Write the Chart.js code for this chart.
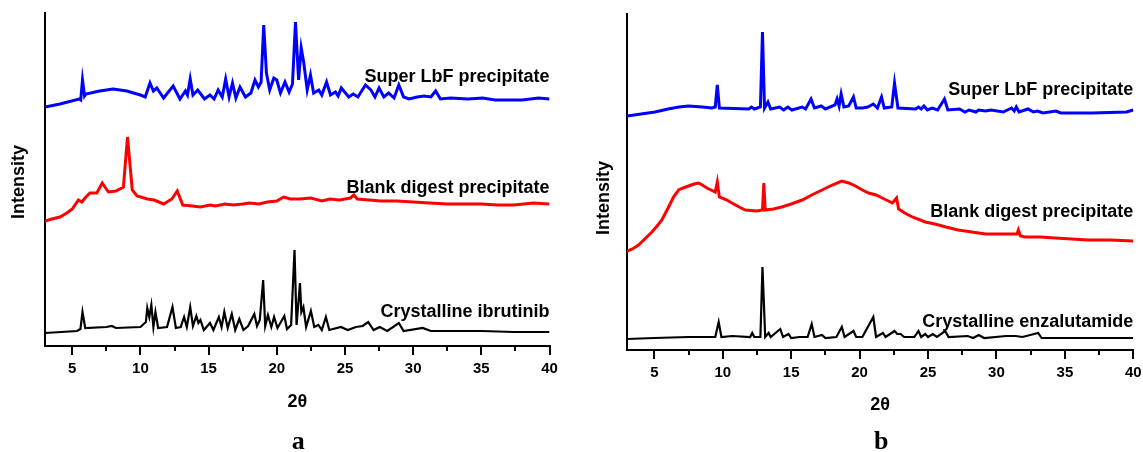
<!DOCTYPE html>
<html>
<head>
<meta charset="utf-8">
<script src="https://cdn.jsdelivr.net/npm/chart.js@4/dist/chart.umd.min.js"></script>
<style>
  html, body { margin: 0; padding: 0; background: #fff; }
  #wrap { position: relative; width: 1143px; height: 452px; overflow: hidden; }
  canvas { position: absolute; top: 0; }
</style>
</head>
<body>
<div id="wrap">
  <canvas id="chartA" width="575" height="452" style="left:0"></canvas>
  <canvas id="chartB" width="575" height="452" style="left:580px"></canvas>
</div>
<script>
// [2θ, intensity (a.u.)]
const aSuper = [
  [3.0,239],[4.1,242],[5.5,247],[5.62,246],[5.75,266],[5.9,250],[6.0,252],[7.0,255],[8.0,257],[9.0,255],
  [10.0,251],[10.35,249],[10.7,263],[10.95,255],[11.2,258],[11.7,248],[12.4,260],[12.9,247],[13.3,255],
  [13.45,251],[13.65,267],[13.85,251],[14.2,256],[14.7,247],[15.1,251],[15.4,247],[15.7,256],[16.0,249],
  [16.25,267],[16.5,249],[16.75,263],[17.0,248],[17.3,259],[17.7,249],[18.1,253],[18.4,266],[18.65,259],
  [18.85,264],[19.04,321],[19.24,273],[19.48,256],[19.78,268],[20.0,266],[20.27,253],[20.6,264],[20.9,254],
  [21.15,262],[21.37,324],[21.6,266],[21.79,298],[21.98,283],[22.23,256],[22.47,271],[22.7,253],[23.08,256],
  [23.3,251],[23.65,264],[23.94,251],[24.3,254],[24.5,250],[24.73,258],[25.28,249],[25.6,252],[25.95,249],
  [26.5,261],[26.9,256],[27.2,249],[27.5,258],[27.85,249],[28.2,253],[28.6,248],[28.95,261],[29.3,249],
  [29.7,247],[30.3,249],[30.8,250],[31.3,249],[31.65,255],[32.0,247],[32.75,248],[34.0,247],[35.1,248],
  [36.0,246],[38.0,246],[39.2,248],[40.0,247]
];
const aBlank = [
  [3.0,125],[3.5,127],[4.1,129],[4.6,133],[5.0,137],[5.45,146],[5.7,144],[6.0,149],[6.3,153],[6.8,153],
  [7.2,163],[7.65,154],[8.2,155],[8.75,159],[9.05,209],[9.4,156],[9.75,150],[10.5,147],[11.0,146],[11.7,142],
  [12.3,147],[12.7,155],[13.1,141],[13.8,140],[14.4,139],[15.1,141],[15.5,140],[16.2,142],[16.8,141],
  [17.5,142],[18.0,143],[18.7,142],[19.3,144],[20.0,145],[20.5,149],[21.0,147],[21.7,147],[22.5,148],
  [23.3,145],[23.9,147],[24.6,146],[25.4,148],[25.65,151],[25.9,147],[26.8,146],[27.6,145],[28.8,145],
  [30.0,144],[31.2,143],[32.5,142],[33.8,142],[35.0,142],[36.2,141],[37.4,141],[38.8,143],[40.0,142]
];
const aCryst = [
  [3.0,13],[5.35,15],[5.6,17],[5.75,34],[5.95,18],[7.5,19],[7.9,20],[8.2,18],[10.0,19],[10.4,24],
  [10.5,38],[10.65,29],[10.8,41],[10.95,19],[11.1,34],[11.3,18],[11.95,19],[12.35,39],[12.6,18],[12.95,19],
  [13.2,29],[13.4,19],[13.65,39],[13.85,20],[14.1,30],[14.25,23],[14.4,26],[14.65,16],[15.1,23],[15.35,16],
  [15.75,29],[15.95,19],[16.15,34],[16.4,18],[16.7,32],[16.95,16],[17.25,27],[17.55,16],[17.9,20],[18.35,32],
  [18.55,20],[18.75,26],[19.0,66],[19.15,20],[19.35,31],[19.6,19],[19.8,29],[20.05,18],[20.55,30],[20.75,17],
  [21.05,21],[21.3,96],[21.45,21],[21.7,63],[21.8,34],[21.95,39],[22.15,19],[22.5,35],[22.75,19],[23.05,21],
  [23.3,16],[23.6,29],[23.85,16],[24.7,19],[25.2,16],[25.8,19],[26.3,20],[26.7,24],[27.1,16],[27.55,19],
  [28.1,15],[28.95,23],[29.3,15],[30.7,18],[31.3,15],[32.5,15],[35.0,15],[37.4,14],[40.0,14]
];

const bSuper = [
  [3.0,234],[5.05,238],[6.0,241],[6.8,243],[7.5,244],[8.5,243],[9.2,242],[9.45,243],[9.6,265],[9.75,242],
  [11.9,241],[12.1,243],[12.3,241],[12.75,243],[12.9,318],[13.05,242],[13.3,248],[13.5,241],[14.15,243],
  [14.45,240],[14.75,243],[15.05,240],[15.8,243],[16.05,241],[16.45,251],[16.7,242],[17.2,244],[17.5,241],
  [18.2,245],[18.35,251],[18.5,244],[18.65,256],[18.85,243],[19.2,244],[19.55,253],[19.75,242],[20.2,242],
  [20.6,243],[21.0,246],[21.3,242],[21.6,253],[21.8,242],[22.35,243],[22.55,267],[22.8,242],[24.1,241],
  [24.3,243],[24.5,241],[24.7,244],[24.95,240],[25.3,242],[25.7,240],[26.2,251],[26.45,240],[27.3,241],
  [27.7,238],[28.0,240],[28.5,238],[28.7,240],[29.2,239],[29.6,240],[30.5,238],[31.1,242],[31.3,239],
  [31.45,243],[31.65,238],[32.3,241],[32.7,238],[33.0,239],[33.4,237],[34.35,239],[34.7,237],[37.0,237],
  [39.5,238],[40.0,240]
];
const bBlank = [
  [3.0,99],[3.4,101],[3.84,105],[4.3,111],[4.82,118],[5.2,124],[5.55,130],[6.04,143],[6.4,153],[6.77,160],
  [7.1,162],[7.5,164],[7.9,166],[8.23,167],[8.5,165],[8.84,162],[9.45,158],[9.6,168],[9.75,153],[10.3,150],
  [10.67,147],[11.2,143],[11.65,140],[12.5,139],[12.9,140],[13.0,167],[13.1,140],[13.7,141],[14.3,143],
  [15.0,146],[15.8,150],[16.5,155],[17.25,160],[18.0,165],[18.7,169],[19.2,167],[19.7,164],[20.2,160],
  [20.66,157],[21.2,155],[21.8,151],[22.4,147],[22.7,152],[22.85,141],[23.3,137],[23.85,133],[24.8,128],
  [25.5,126],[26.3,123],[27.2,120],[28.2,118],[29.2,116],[30.3,116],[31.5,116],[31.6,120],[31.75,114],
  [32.1,113],[33.2,113],[34.3,112],[35.5,111],[36.7,110],[38.3,110],[40.0,109]
];
const bCryst = [
  [3.0,11],[5.0,12],[7.5,13],[9.45,13],[9.7,28],[9.9,13],[10.7,14],[12.0,13],[12.15,17],[12.3,13],
  [12.75,13],[12.9,83],[13.1,13],[13.35,17],[13.5,13],[14.2,21],[14.4,13],[14.8,16],[15.0,12],[15.6,13],
  [16.2,13],[16.5,26],[16.7,13],[17.25,15],[17.5,12],[18.3,13],[18.7,23],[18.9,13],[19.55,19],[19.75,13],
  [20.2,13],[21.0,33],[21.2,13],[21.7,17],[21.9,13],[22.55,19],[22.75,16],[23.0,16],[23.25,13],[24.0,13],
  [24.3,19],[24.5,13],[24.8,16],[25.0,13],[25.35,16],[25.65,13],[26.25,19],[26.5,13],[27.9,14],[28.3,12],
  [28.7,15],[29.1,12],[30.7,14],[31.4,14],[31.9,13],[33.05,17],[33.3,12],[35.0,12],[37.5,12],[40.0,12]
];

const seriesColors = ['#0000ff', '#ff0000', '#000000'];
const panelALabels = ['Super LbF precipitate', 'Blank digest precipitate', 'Crystalline ibrutinib'];
const panelBLabels = ['Super LbF precipitate', 'Blank digest precipitate', 'Crystalline enzalutamide'];

const SANS = '"Liberation Sans", Arial, sans-serif';
const SERIF = '"Liberation Serif", "Times New Roman", serif';

function toXY(arr) { return arr.map(p => ({ x: p[0], y: p[1] })); }

// trace names, axis titles and the panel letter
const annotatePlugin = {
  id: 'annotate',
  afterDraw(chart, args, opts) {
    const { ctx, chartArea, scales } = chart;
    ctx.save();
    ctx.fillStyle = '#000';

    ctx.font = 'bold 18px ' + SANS;
    ctx.textAlign = 'right';
    ctx.textBaseline = 'alphabetic';
    const xr = scales.x.getPixelForValue(40);
    opts.labels.forEach((txt, i) => {
      ctx.fillText(txt, xr, scales.y.getPixelForValue(opts.labelAt[i]));
    });

    ctx.textAlign = 'center';
    ctx.textBaseline = 'middle';
    ctx.font = 'bold 18px ' + SANS;
    const cx = (chartArea.left + chartArea.right) / 2;
    ctx.fillText('2θ', cx, chartArea.bottom + opts.titleGap);

    ctx.textBaseline = 'alphabetic';
    ctx.font = 'bold 26px ' + SERIF;
    ctx.fillText(opts.letter, cx + 1, 449);

    ctx.save();
    ctx.translate(opts.yTitleX, opts.yTitleY);
    ctx.rotate(-Math.PI / 2);
    ctx.textBaseline = 'middle';
    ctx.font = 'bold 18px ' + SANS;
    ctx.fillText('Intensity', 0, 0);
    ctx.restore();

    ctx.restore();
  }
};

function makePanel(canvasId, series, cfg) {
  const datasets = series.map((s, i) => ({
    data: toXY(s),
    borderColor: seriesColors[i],
    borderWidth: i === 2 ? 2.2 : 3,
    pointRadius: 0,
    tension: 0,
    fill: false
  }));

  return new Chart(document.getElementById(canvasId), {
    type: 'line',
    data: { datasets },
    options: {
      responsive: false,
      animation: false,
      layout: { padding: { left: 0, right: cfg.padRight, top: cfg.top, bottom: 0 } },
      scales: {
        x: {
          type: 'linear',
          position: 'bottom',
          weight: 1,
          min: 3, max: 40,
          afterFit: s => { s.height = cfg.xHeight; },
          border: { display: true, color: '#000', width: 2 },
          grid: { display: true, drawOnChartArea: false, drawTicks: true, tickLength: 9, color: '#000', lineWidth: 2 },
          ticks: {
            stepSize: 5,
            includeBounds: false,
            autoSkip: false,
            maxRotation: 0,
            padding: 5,
            color: '#000',
            font: { family: SANS, size: 15, weight: 'bold' }
          }
        },
        // short minor ticks half-way between the labelled ones
        xMinor: {
          type: 'linear',
          position: 'bottom',
          weight: 0,
          min: 3, max: 40,
          afterFit: s => { s.height = 0; },
          border: { display: false },
          grid: { display: true, drawOnChartArea: false, drawTicks: true, tickLength: 5, color: '#000', lineWidth: 2 },
          ticks: { stepSize: 2.5, includeBounds: false, autoSkip: false, display: false }
        },
        y: {
          min: 0, max: cfg.yMax,
          afterFit: s => { s.width = cfg.left; },
          border: { display: true, color: '#000', width: 2 },
          grid: { display: false },
          ticks: { display: false }
        }
      },
      plugins: {
        legend: { display: false },
        tooltip: { enabled: false },
        annotate: cfg.annotate
      }
    },
    plugins: [annotatePlugin]
  });
}

makePanel('chartA', [aSuper, aBlank, aCryst], {
  left: 45, padRight: 25.5, top: 13, xHeight: 452 - 346, yMax: 333,
  annotate: { labels: panelALabels, labelAt: [264, 153, 29], letter: 'a', titleGap: 56, yTitleX: 19, yTitleY: 182 }
});

makePanel('chartB', [bSuper, bBlank, bCryst], {
  left: 47, padRight: 21.7, top: 14, xHeight: 452 - 350, yMax: 336,
  annotate: { labels: panelBLabels, labelAt: [255, 133, 23], letter: 'b', titleGap: 55, yTitleX: 24, yTitleY: 198 }
});
</script>
</body>
</html>
